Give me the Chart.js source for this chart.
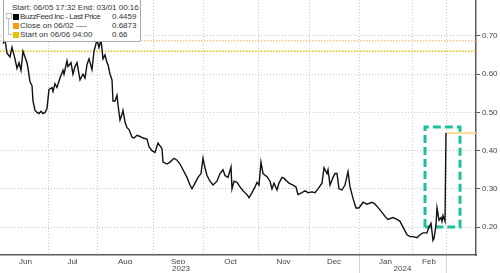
<!DOCTYPE html>
<html>
<head>
<meta charset="utf-8">
<script src="https://cdn.jsdelivr.net/npm/chart.js@4.4.0/dist/chart.umd.min.js"></script>
<style>
  html, body { margin: 0; padding: 0; background: #fff; }
  #wrap { position: relative; width: 500px; height: 273px; overflow: hidden; }
  #legend {
    position: absolute; left: 3px; top: -1px; width: 138px; height: 43px;
    box-sizing: border-box; border: 1px solid #a8a8a8; border-radius: 2px;
    background: #fff; font: 8px 'Liberation Sans', Arial, sans-serif; color: #333;
  }
  #legend .row { position: absolute; left: 8px; height: 9px; line-height: 9px; white-space: nowrap; }
  #legend .sw { position: absolute; left: 1px; top: 1.5px; width: 6px; height: 6px; }
  #legend .lab { position: absolute; left: 8px; }
  #legend .lab.tight { letter-spacing: -0.45px; }
  #legend .val { position: absolute; left: 100px; }
  #tree { position: absolute; left: 4px; top: 18px; width: 4px; height: 16px; border-left: 1px solid #c0c0c0; border-bottom: 1px solid #c0c0c0; }
  #treeBox { position: absolute; left: 2px; top: 13px; width: 4px; height: 4px; border: 1px solid #c0c0c0; }
</style>
</head>
<body>
<div id="wrap">
  <canvas id="chart" width="500" height="273"></canvas>
  <div id="legend"><div id="treeBox"></div><div id="tree"></div></div>
</div>
<script>
// months along the bottom and where each one begins (session index)
const monthNames = ["Jun", "Jul", "Aug", "Sep", "Oct", "Nov", "Dec", "Jan", "Feb"];
const monthStarts = [0, 45, 94, 150, 200, 255, 306, 356, 409, 443];
const yearNames = ["2023", "2024"];
const yearStarts = [0, 356, 443];
const yTicks = [0.20, 0.30, 0.40, 0.50, 0.60, 0.70];

// BuzzFeed last price
const sessions = [
  0, 2, 4, 7, 9, 12, 14, 16, 18, 20, 22, 24, 25, 27, 29, 30, 32, 34, 36, 38,
  40, 42, 44, 46, 49, 50, 52, 54, 57, 60, 61, 64, 65, 68, 70, 72, 74, 77, 80, 82,
  84, 86, 89, 91, 93, 94, 96, 98, 100, 102, 104, 105, 107, 109, 110, 112, 114, 115, 117, 119,
  120, 122, 124, 126, 129, 131, 134, 137, 140, 144, 146, 149, 152, 155, 159, 160, 164, 167, 171, 174,
  177, 180, 184, 187, 189, 192, 195, 198, 200, 202, 204, 207, 210, 214, 217, 220, 222, 225, 228, 229,
  231, 234, 237, 240, 244, 246, 249, 252, 254, 256, 258, 260, 264, 267, 269, 271, 274, 276, 279, 281,
  284, 286, 290, 293, 295, 299, 302, 305, 309, 312, 315, 319, 321, 324, 325, 327, 330, 332, 334, 336,
  339, 342, 345, 347, 350, 353, 356, 360, 364, 369, 372, 377, 382, 385, 390, 394, 397, 400, 404, 407,
  410, 414, 417, 420, 424, 426, 428, 430, 431, 433, 434, 436, 438, 439, 440, 442, 443
];
const prices = [
  0.68, 0.69, 0.655, 0.645, 0.67, 0.64, 0.615, 0.63, 0.61, 0.66, 0.645, 0.63, 0.615, 0.58, 0.57, 0.53, 0.505, 0.50, 0.497, 0.503,
  0.497, 0.50, 0.51, 0.56, 0.565, 0.555, 0.575, 0.565, 0.59, 0.61, 0.60, 0.635, 0.62, 0.63, 0.60, 0.62, 0.63, 0.585, 0.60, 0.59,
  0.625, 0.64, 0.612, 0.66, 0.68, 0.69, 0.67, 0.69, 0.64, 0.65, 0.63, 0.625, 0.60, 0.585, 0.53, 0.53, 0.545, 0.52, 0.48, 0.495,
  0.505, 0.475, 0.46, 0.455, 0.435, 0.433, 0.44, 0.437, 0.433, 0.43, 0.41, 0.40, 0.395, 0.42, 0.405, 0.37, 0.365, 0.37, 0.38, 0.375,
  0.365, 0.35, 0.33, 0.31, 0.30, 0.315, 0.33, 0.34, 0.38, 0.355, 0.335, 0.32, 0.31, 0.32, 0.34, 0.35, 0.335, 0.33, 0.357, 0.30,
  0.32, 0.317, 0.305, 0.295, 0.285, 0.277, 0.29, 0.305, 0.317, 0.31, 0.37, 0.34, 0.332, 0.32, 0.30, 0.315, 0.297, 0.315, 0.33, 0.328,
  0.32, 0.315, 0.31, 0.305, 0.285, 0.29, 0.295, 0.29, 0.292, 0.29, 0.30, 0.315, 0.355, 0.34, 0.35, 0.31, 0.33, 0.34, 0.34, 0.30,
  0.297, 0.31, 0.345, 0.305, 0.275, 0.25, 0.25, 0.265, 0.26, 0.265, 0.26, 0.245, 0.228, 0.22, 0.225, 0.22, 0.215, 0.20, 0.18, 0.175,
  0.175, 0.172, 0.18, 0.185, 0.185, 0.20, 0.21, 0.165, 0.17, 0.205, 0.25, 0.218, 0.225, 0.215, 0.23, 0.215, 0.4459
];
const lastPrice = 0.4459;
const closeLevel = 0.6873;
const startLevel = 0.66;

// highlight box around the last weeks
const boxSessions = [422, 457];
const boxPrices = [0.20, 0.462];

const xMin = -3, xMax = 473;

// legend text
const headerText = "Start: 06/05 17:32 End: 03/01 00:16";
const legendLabels = ["BuzzFeed Inc - Last Price", "Close on 06/02 ----", "Start on 06/06 04:00"];
const legendValues = [lastPrice.toFixed(4), closeLevel.toFixed(4), startLevel.toFixed(2)];
const legendColors = ["#000000", "#f39c12", "#e6c300"];

const legend = document.getElementById("legend");
let html = '<div class="row" style="top:3px">' + headerText + '</div>';
legendLabels.forEach((lab, i) => {
  html += '<div class="row" style="top:' + (12 + i * 9) + 'px">' +
    '<span class="sw" style="background:' + legendColors[i] + '"></span>' +
    '<span class="lab' + (i === 0 ? ' tight' : '') + '">' + lab + '</span><span class="val">' + legendValues[i] + '</span></div>';
});
legend.insertAdjacentHTML("beforeend", html);

Chart.defaults.font.family = "'Liberation Sans', Arial, sans-serif";
Chart.defaults.font.size = 8;
Chart.defaults.color = "#444";

const mids = (starts) => starts.slice(0, -1).map((s, i) => (s + starts[i + 1]) / 2);
const gridGray = "#c8c8c8";
const axisGray = "#5a5a5a";

const ctx = document.getElementById("chart").getContext("2d");
new Chart(ctx, {
  type: "line",
  data: {
    datasets: [
      {
        data: sessions.map((s, i) => ({ x: s, y: prices[i] })),
        borderColor: "#111",
        borderWidth: 1.4,
        pointRadius: 0
      },
      {
        data: [{ x: sessions[sessions.length - 1], y: lastPrice }, { x: xMax, y: lastPrice }],
        borderColor: "rgba(250, 215, 140, 0.9)",
        borderWidth: 2,
        pointRadius: 0
      },
      {
        data: [{ x: xMin, y: closeLevel }, { x: xMax, y: closeLevel }],
        borderColor: "#f8c98a",
        borderWidth: 1.5,
        borderDash: [1.5, 1.5],
        pointRadius: 0
      },
      {
        data: [{ x: xMin, y: startLevel }, { x: xMax, y: startLevel }],
        borderColor: "#e2c410",
        borderWidth: 1.5,
        borderDash: [1.5, 1.5],
        pointRadius: 0
      },
      {
        data: [
          { x: boxSessions[0], y: boxPrices[0] }, { x: boxSessions[0], y: boxPrices[1] },
          { x: boxSessions[1], y: boxPrices[1] }, { x: boxSessions[1], y: boxPrices[0] },
          { x: boxSessions[0], y: boxPrices[0] }
        ],
        borderColor: "#1dbf9f",
        borderWidth: 3,
        borderDash: [8, 4],
        pointRadius: 0
      }
    ]
  },
  options: {
    responsive: false,
    animation: false,
    layout: { padding: 0 },
    plugins: { legend: { display: false }, tooltip: { enabled: false } },
    scales: {
      x: {
        type: "linear", position: "bottom", min: xMin, max: xMax, weight: 0,
        afterBuildTicks: s => { s.ticks = monthStarts.slice(1).map(v => ({ value: v })); },
        ticks: { display: false },
        grid: {
          color: gridGray, drawTicks: true, tickLength: 18, tickBorderDash: [],
          tickColor: c => (c.tick && yearStarts.slice(1).includes(c.tick.value)) ? "#d4d4d4" : "rgba(0,0,0,0)"
        },
        border: { color: axisGray, width: 1.5, dash: [1, 2] },
        afterFit: s => { s.height = 0; s.paddingLeft = 0; s.paddingRight = 0; }
      },
      xMonth: {
        type: "linear", position: "bottom", min: xMin, max: xMax, weight: 1,
        afterBuildTicks: s => { s.ticks = mids(monthStarts).map(v => ({ value: v })); },
        ticks: { callback: (v, i) => monthNames[i], autoSkip: false, maxRotation: 0, padding: 2, color: "#444" },
        grid: { display: false, drawTicks: false },
        border: { display: false },
        afterFit: s => { s.height = 9; s.paddingLeft = 0; s.paddingRight = 0; }
      },
      xYear: {
        type: "linear", position: "bottom", min: xMin, max: xMax, weight: 2,
        afterBuildTicks: s => { s.ticks = mids(yearStarts).map(v => ({ value: v })); },
        ticks: { callback: (v, i) => yearNames[i], autoSkip: false, maxRotation: 0, padding: 0, color: "#444" },
        grid: { display: false, drawTicks: false },
        border: { display: false },
        afterFit: s => { s.height = 9; s.paddingLeft = 0; s.paddingRight = 0; }
      },
      y: {
        type: "linear", position: "right", min: 0.127, max: 0.794,
        afterBuildTicks: s => { s.ticks = yTicks.map(v => ({ value: v })); },
        ticks: { callback: v => v.toFixed(2), padding: 2, color: "#444" },
        grid: { color: gridGray, tickLength: 4, tickColor: axisGray, tickBorderDash: [] },
        border: { color: axisGray, width: 1.5, dash: [1, 2] },
        afterFit: s => { s.width = 24; s.paddingTop = 0; s.paddingBottom = 0; }
      }
    }
  }
});
</script>
</body>
</html>
